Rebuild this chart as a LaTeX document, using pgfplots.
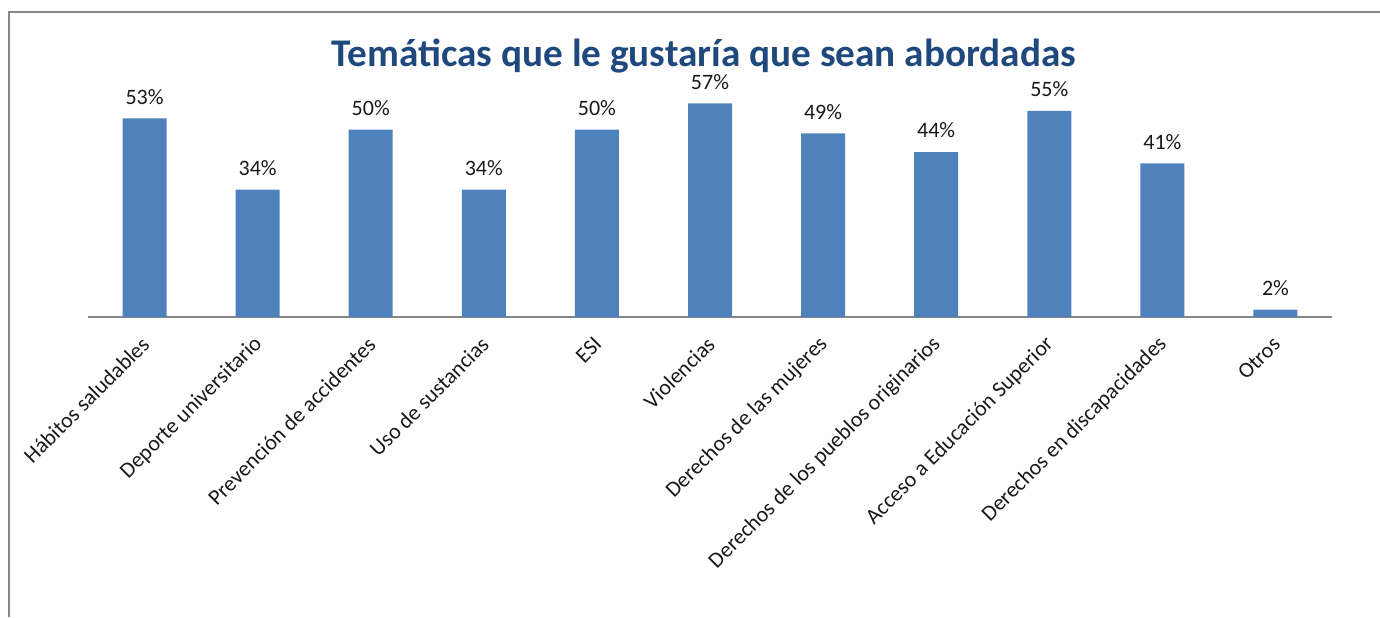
\documentclass[border=0pt]{standalone}
\usepackage{fontspec}
\setmainfont{Carlito}
\usepackage{pgfplots}
\pgfplotsset{compat=1.18}
\definecolor{barblue}{HTML}{4F81BD}
\definecolor{titleblue}{HTML}{1F497D}
\definecolor{framegray}{HTML}{868686}
\begin{document}
\begin{tikzpicture}
\path[use as bounding box] (0,0) rectangle (690pt,308.5pt);
\draw[framegray,line width=1pt] (4.5pt,0) -- (4.5pt,302.5pt) -- (690pt,302.5pt);
\node[anchor=base,text=titleblue,font=\fontsize{19.6}{24}\selectfont\bfseries] at (352pt,275pt) {Temáticas que le gustaría que sean abordadas};
\begin{axis}[
  at={(44pt,150pt)}, anchor=south west,
  scale only axis, width=622pt, height=112.5pt,
  xmin=-0.5, xmax=10.5, ymin=0, ymax=60,
  axis x line=bottom, axis y line=none,
  x axis line style={framegray, line width=0.8pt, -},
  clip=false,
  xtick={0,...,10}, ytick=\empty,
  major tick length=0pt,
  xticklabels={Hábitos saludables,Deporte universitario,Prevención de accidentes,Uso de sustancias,ESI,Violencias,Derechos de las mujeres,Derechos de los pueblos originarios,Acceso a Educación Superior,Derechos en discapacidades,Otros},
  x tick label style={rotate=45, anchor=east, font=\fontsize{11}{13}\selectfont, text=black!90, inner sep=0pt, yshift=-8.8pt, xshift=-7.9pt},
]
\addplot[ybar, bar width=22pt, fill=barblue, draw=none,
  nodes near coords={\pgfmathprintnumber[fixed,precision=0,assume math mode=true]{\pgfplotspointmeta}\%},
  every node near coord/.append style={font=\fontsize{11}{13}\selectfont, text=black!90, yshift=3.5pt}]
 coordinates {(0,53) (1,34) (2,50) (3,34) (4,50) (5,57) (6,49) (7,44) (8,55) (9,41) (10,2)};
\end{axis}
\end{tikzpicture}
\end{document}
